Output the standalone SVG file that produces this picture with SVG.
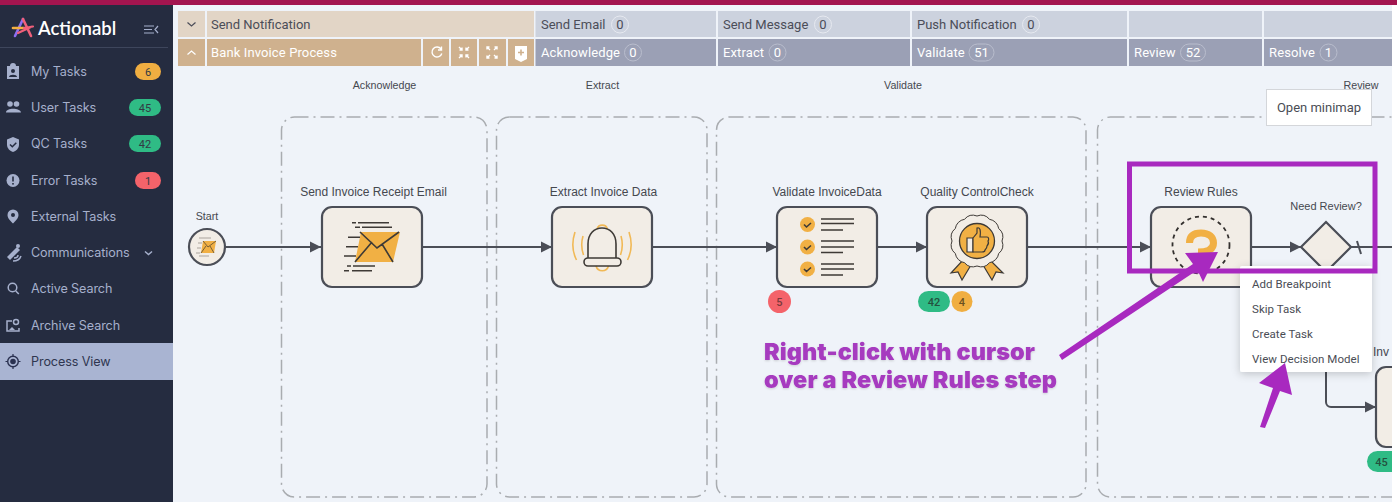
<svg xmlns="http://www.w3.org/2000/svg" width="1397" height="502" viewBox="0 0 1397 502">
<style>
text{font-family:"Roboto","Liberation Sans",sans-serif}
.side{font-size:12.6px;fill:#a6b0cc;font-family:"Inter","Roboto",sans-serif;letter-spacing:-.1px}
.ic{fill:#a6b0cc}
.icl{fill:none;stroke:#a6b0cc;stroke-width:1.5}
.bt{font-size:11px;fill:#333a44;text-anchor:middle}
.h1{font-size:13px;fill:#4b4d58}
.h2{font-size:13px;fill:#fff;letter-spacing:.12px}
.pl{fill:none;stroke:#e6e9f0;stroke-width:1}
.pd{fill:none;stroke:#b9bdcd;stroke-width:1}
.pt1{font-size:13px;fill:#4b4d58;text-anchor:middle}
.pt2{font-size:13px;fill:#fff;text-anchor:middle}
.a{fill:#ccd2de}.b{fill:#9ba0b5}.c{fill:#cfb18e}
.hi{fill:none;stroke:#fff;stroke-width:1.4}
.lane{fill:none;stroke:#a9acb0;stroke-width:1.5;stroke-dasharray:14 5 2 5}
.lab{font-family:"Liberation Sans",Arial,sans-serif;font-size:12px;fill:#45484f;text-anchor:middle}
.slab{font-family:"Liberation Sans",Arial,sans-serif;font-size:10.7px;fill:#45484f;text-anchor:middle}
.node{fill:#f2ede6;stroke:#4b4e57;stroke-width:2.2}
.ln{fill:none;stroke:#4b4e57;stroke-width:2}
.o{fill:#f1b044}
.d{fill:none;stroke:#3e3a36;stroke-width:1.6}
.w{fill:none;stroke:#f1b956;stroke-width:1.6}
.mi{font-size:11.5px;fill:#4a4d55;letter-spacing:.05px}
.pur{fill:#a829bf}
.pt{font-family:"Inter","Liberation Sans",sans-serif;font-weight:900;font-size:23.5px;fill:#a63abf;filter:url(#ts)}
.bd{font-size:11px;text-anchor:middle;fill:#4a4d45;font-weight:500}
</style>
<defs>
<marker id="ah" markerUnits="userSpaceOnUse" markerWidth="12" markerHeight="12" refX="11" refY="6" orient="auto"><path d="M0 .5L11 6L0 11.5Z" fill="#4b4e57"/></marker>
<filter id="sh" x="-10%" y="-10%" width="120%" height="125%"><feDropShadow dx="0" dy="2" stdDeviation="4" flood-color="#000" flood-opacity=".2"/></filter>
<filter id="ts" x="-5%" y="-20%" width="110%" height="140%"><feDropShadow dx="0" dy="1" stdDeviation="1" flood-color="#000" flood-opacity=".15"/></filter>
<clipPath id="cl"><rect x="173" y="0" width="1219" height="502"/></clipPath>
</defs>

<rect width="1397" height="502" fill="#fff"/>
<rect x="173" y="5" width="1219" height="497" fill="#eff3f9"/>
<rect width="1397" height="5" fill="#a3154f"/>

<g id="sidebar">
<rect x="0" y="5" width="173" height="497" fill="#252c40"/>
<rect x="0" y="343" width="173" height="37" fill="#a9b4d2"/>
<g id="logo">
<path d="M23 19L15 36" stroke="#8d6ff0" stroke-width="2.600" stroke-linecap="round"/>
<path d="M23 19L31 36" stroke="#f0607a" stroke-width="2.600" stroke-linecap="round"/>
<path d="M13 28H24" stroke="#f5b041" stroke-width="2.600" stroke-linecap="round"/>
<path d="M24 28L33 26.500M18 33L31 27" stroke="#f0607a" stroke-width="2.200" stroke-linecap="round"/>
<text x="38" y="35" font-size="18.5" font-weight="600" fill="#fff" style="font-family:'Lato','Inter',sans-serif">Actionabl</text>
<path d="M144 26h10M144 29.500h8M144 33h10M158 26l-3 3.500l3 3.500" fill="none" stroke="#a6b0cc" stroke-width="1.200"/>
</g>
<path d="M0 47.500H168" stroke="#3e465c" stroke-width="1"/>
<g id="my-tasks"><path d="M7 66h3a3 3 0 0 1 6 0h3v13H7Z" class="ic"/><circle cx="13" cy="71" r="2" fill="#252c40"/><path d="M9 77c0-3 8-3 8 0Z" fill="#252c40"/><text x="31" y="76" class="side">My Tasks</text><rect x="135" y="63" width="26" height="17" rx="8.500" fill="#f0ae41"/><text x="148" y="76" class="bt">6</text></g>
<g id="user-tasks"><circle cx="10" cy="104" r="2.800" class="ic"/><circle cx="16.500" cy="104" r="2.800" class="ic"/><path d="M6 112.500c0-5 14-5 15 0Z" class="ic"/><text x="31" y="112" class="side">User Tasks</text><rect x="129" y="99" width="32" height="17" rx="8.500" fill="#2fbb85"/><text x="145" y="112" class="bt">45</text></g>
<g id="qc-tasks"><path d="M13 137l6 2.500v5c0 4-3 6.500-6 7.500c-3-1-6-3.500-6-7.500v-5Z" class="ic"/><path d="M10 144.500l2.300 2.300l4-4" fill="none" stroke="#252c40" stroke-width="1.500"/><text x="31" y="148" class="side">QC Tasks</text><rect x="129" y="135" width="32" height="17" rx="8.500" fill="#2fbb85"/><text x="145" y="148" class="bt">42</text></g>
<g id="error-tasks"><circle cx="13" cy="180.500" r="6.500" class="ic"/><rect x="12.200" y="176.500" width="1.600" height="5" fill="#252c40"/><rect x="12.200" y="183" width="1.600" height="1.600" fill="#252c40"/><text x="31" y="185" class="side">Error Tasks</text><rect x="135" y="172" width="26" height="17" rx="8.500" fill="#f4636a"/><text x="148" y="185" class="bt">1</text></g>
<g id="external-tasks"><path d="M13 209.500a5.500 5.500 0 0 1 5.500 5.500c0 3.500-3.500 6.500-5.500 8.500c-2-2-5.500-5-5.500-8.500a5.500 5.500 0 0 1 5.500-5.500Z" class="ic"/><circle cx="13" cy="215" r="2" fill="#252c40"/><text x="31" y="221" class="side">External Tasks</text></g>
<g id="communications"><path d="M7 257l10-10l3 3l-10 10Z" class="ic"/><circle cx="18" cy="246" r="2" class="ic"/><path d="M14 258c2 0 4-1 4-3M13 261c4 0 7-2 8-5" class="icl" stroke-width="1"/><text x="31" y="257" class="side">Communications</text><path d="M145 251.500l3.500 3l3.500-3" class="icl"/></g>
<g id="active-search"><circle cx="12.500" cy="287.500" r="4.300" class="icl"/><path d="M15.800 291l3 3" class="icl"/><text x="31" y="293" class="side">Active Search</text></g>
<g id="archive-search"><path d="M12 321h-5v10h12v-3" class="icl"/><circle cx="16" cy="322" r="2.500" class="icl"/><path d="M9 330l3-3l3 3Z" class="ic"/><text x="31" y="330" class="side">Archive Search</text></g>
<g id="process-view"><circle cx="13" cy="361.500" r="5.300" fill="none" stroke="#2a3150" stroke-width="1.400"/><circle cx="13" cy="361.500" r="2.800" fill="#2a3150"/><path d="M13 354v2.500M13 366.500v2.500M5.500 361.500H8M18 361.500h2.500" stroke="#2a3150" stroke-width="1.200"/><text x="31" y="366" class="side" style="fill:#2f3650">Process View</text></g>
</g>

<g id="header">
<rect x="178" y="11" width="27" height="26" fill="#e2d5c6"/>
<path d="M187.500 22.500l4 3.500l4-3.500" fill="none" stroke="#4b4d58" stroke-width="1.200"/>
<rect x="207" y="11" width="327" height="26" fill="#e2d5c6"/>
<text x="211" y="29" class="h1">Send Notification</text>
<rect x="535.500" y="11" width="180.500" height="26" class="a"/>
<text x="541" y="29" class="h1">Send Email</text><circle cx="620" cy="24.500" r="8.500" class="pl"/><text x="620" y="29" class="pt1">0</text>
<rect x="718" y="11" width="192" height="26" class="a"/>
<text x="723" y="29" class="h1">Send Message</text><circle cx="823" cy="24.500" r="8.500" class="pl"/><text x="823" y="29" class="pt1">0</text>
<rect x="912" y="11" width="215" height="26" class="a"/>
<text x="917" y="29" class="h1">Push Notification</text><circle cx="1031" cy="24.500" r="8.500" class="pl"/><text x="1031" y="29" class="pt1">0</text>
<rect x="1129" y="11" width="133" height="26" class="a"/>
<rect x="1264" y="11" width="128" height="26" class="a"/>

<rect x="178" y="39" width="27" height="27" class="c"/>
<path d="M187.500 54.500l4-3.500l4 3.500" fill="none" stroke="#fff" stroke-width="1.200"/>
<rect x="207" y="39" width="214" height="27" class="c"/>
<text x="211" y="57" class="h2">Bank Invoice Process</text>
<rect x="423" y="39" width="26" height="27" class="c"/>
<path d="M441 49a5 5 0 1 0 .8 4.500M441.500 46.500v3.500h-3.500" class="hi"/>
<rect x="451" y="39" width="26" height="27" class="c"/>
<path d="M459 47l3 3M459.500 50h2.500v-2.500M469 47l-3 3M468.500 50H466v-2.500M459 58l3-3M459.500 55h2.500v2.500M469 58l-3-3M468.500 55H466v2.500" class="hi" stroke-width="1"/>
<rect x="479" y="39" width="27" height="27" class="c"/>
<path d="M487 47l3 3M487 49.500V47h2.500M497 47l-3 3M497 49.500V47h-2.500M487 58l3-3M487 55.500V58h2.500M497 58l-3-3M497 55.500V58h-2.500" class="hi" stroke-width="1"/>
<rect x="508" y="39" width="26" height="27" class="c"/>
<path d="M515 46h12v13l-6 3l-6-3Z" fill="#fff"/><path d="M521 49.500v6M518 52.500h6" stroke="#cfb18e" stroke-width="1.600"/>
<rect x="535.500" y="39" width="180.500" height="27" class="b"/>
<text x="541" y="57" class="h2">Acknowledge</text><circle cx="633" cy="52.500" r="8.500" class="pd"/><text x="633" y="57" class="pt2">0</text>
<rect x="718" y="39" width="192" height="27" class="b"/>
<text x="723" y="57" class="h2">Extract</text><circle cx="777.500" cy="52.500" r="8.500" class="pd"/><text x="777.500" y="57" class="pt2">0</text>
<rect x="912" y="39" width="215" height="27" class="b"/>
<text x="917" y="57" class="h2">Validate</text><rect x="969" y="44" width="25" height="17" rx="8.500" class="pd"/><text x="981.500" y="57" class="pt2">51</text>
<rect x="1129" y="39" width="133" height="27" class="b"/>
<text x="1134" y="57" class="h2">Review</text><rect x="1180.500" y="44" width="25" height="17" rx="8.500" class="pd"/><text x="1193" y="57" class="pt2">52</text>
<rect x="1264" y="39" width="128" height="27" class="b"/>
<text x="1269" y="57" class="h2">Resolve</text><circle cx="1328.500" cy="52.500" r="8.500" class="pd"/><text x="1328.500" y="57" class="pt2">1</text>
</g>

<g id="canvas" clip-path="url(#cl)">
<g id="lanes">
<rect x="281.500" y="117" width="205.500" height="380" rx="13" class="lane"/>
<rect x="496.500" y="117" width="210.500" height="380" rx="13" class="lane"/>
<rect x="716.500" y="117" width="369.500" height="380" rx="13" class="lane"/>
<rect x="1097.500" y="117" width="400" height="380" rx="13" class="lane"/>
<text x="384.500" y="89" class="slab">Acknowledge</text>
<text x="602.500" y="89" class="slab">Extract</text>
<text x="903" y="89" class="slab">Validate</text>
<text x="1361" y="89" class="slab">Review</text>
</g>

<g id="connectors">
<path d="M226 247H321" class="ln" marker-end="url(#ah)"/>
<path d="M423 247H552" class="ln" marker-end="url(#ah)"/>
<path d="M652 247H777" class="ln" marker-end="url(#ah)"/>
<path d="M877 247H927" class="ln" marker-end="url(#ah)"/>
<path d="M1027 247H1151" class="ln" marker-end="url(#ah)"/>
<path d="M1251 247H1301" class="ln" marker-end="url(#ah)"/>
<path d="M1351 247H1392" class="ln"/>
<path d="M1357 241L1361 254" class="ln" stroke-width="1.600"/>
<path d="M1326 272V402a5 5 0 0 0 5 5H1376" class="ln" marker-end="url(#ah)"/>
</g>

<g id="start">
<text x="207" y="220" class="slab">Start</text>
<circle cx="207" cy="247" r="18" class="node"/>
<path d="M203 241H216L214 253H201Z" class="o"/>
<path d="M203 241l5 6l8-6M201 253l5-7M214 253l-4-7" fill="none" stroke="#5a4a30" stroke-width=".8"/>
<path d="M199 238h12M198 243h4M197 248h4M196 253h4M199 256h10" stroke="#a9a49c" stroke-width="1.200"/>
</g>

<g id="send-invoice-receipt-email">
<text x="373.500" y="196" class="lab">Send Invoice Receipt Email</text>
<rect x="322" y="207" width="100" height="80" rx="10" class="node"/>
<path d="M361 232H400L393 262H355Z" class="o"/>
<path d="M360 232L377 248L399 232M355 262L372 242M393 262L382 244M352 222.700h4M358 222.700h31M355 227.300h5M362 227.300h30M348 237.300h12M346 246.700h12M344 256h12M347 266h4M353 266h22M344 270.700h5M352 270.700h20" class="d"/>
</g>

<g id="extract-invoice-data">
<text x="603.500" y="196" class="lab">Extract Invoice Data</text>
<rect x="552" y="207" width="100" height="80" rx="10" class="node"/>
<path d="M597 229a5.500 5.500 0 0 1 10.500 0M596 266a6.500 6.500 0 0 0 12.500 0M575 232c-3 9-3 19 1.500 28M583 236c-2 7-2 12 .5 19M629 232c3 9 3 19-1.500 28M621 236c2 7 2 12-.5 19" class="w"/>
<path d="M588 258V244c0-10 6-16 14-16s14 6 14 16V258" class="d"/>
<rect x="584" y="258" width="37" height="8" rx="4" class="d"/>
</g>

<g id="validate-invoicedata">
<text x="827" y="196" class="lab">Validate InvoiceData</text>
<rect x="777" y="207" width="100" height="80" rx="10" class="node"/>
<circle cx="807.500" cy="224.500" r="7.500" class="o"/><circle cx="807.500" cy="247" r="7.500" class="o"/><circle cx="807.500" cy="269" r="7.500" class="o"/>
<path d="M804 224.500l2.500 2.500l4.500-4M804 247l2.500 2.500l4.500-4M804 269l2.500 2.500l4.500-4M821 219h33M821 223.500h33M821 230h22M821 241h33M821 247h33M821 252.500h22M821 264h33M821 269h33M821 275h22" class="d"/>
<circle cx="779.500" cy="301.500" r="11.500" fill="#f4636a"/><text x="779.500" y="305.500" class="bd" style="fill:#7b3a3c">5</text>
</g>

<g id="quality-controlcheck">
<text x="977" y="196" class="lab">Quality ControlCheck</text>
<rect x="927" y="207" width="100" height="80" rx="10" class="node"/>
<path d="M963 260L971 265L962 280L958 272L951 273ZM990 260L983 265L992 280L996 272L1003 273Z" class="o" stroke="#3e3a36" stroke-width="1.200"/>
<path d="M1002 241A11 11 0 0 1 998.700 253.500A11 11 0 0 1 989.500 262.700A11 11 0 0 1 977 266A11 11 0 0 1 964.500 262.700A11 11 0 0 1 955.300 253.500A11 11 0 0 1 952 241A11 11 0 0 1 955.300 228.500A11 11 0 0 1 964.500 219.300A11 11 0 0 1 977 216A11 11 0 0 1 989.500 219.300A11 11 0 0 1 998.700 228.500A11 11 0 0 1 1002 241Z" fill="#f2ede6" stroke="#3e3a36" stroke-width="1"/>
<circle cx="977" cy="241" r="17.500" class="o" stroke="#3e3a36" stroke-width="1.300"/>
<path d="M967 238h6v14h-6Z" fill="#f2ede6" stroke="#3e3a36" stroke-width="1.200"/>
<path d="M973 238l4-5v-5c3-1 4 2 3 9h7c2 0 2 3 1 4c1 2 0 4-1 5c0 2-1 3-2 4c0 1-1 2-3 2h-9Z" class="o" stroke="#3e3a36" stroke-width="1.200"/>
<rect x="918" y="291" width="32" height="21" rx="10.500" fill="#2fbb85"/><text x="934" y="305.500" class="bd" style="fill:#24513f">42</text>
<circle cx="962" cy="301.500" r="10.500" fill="#f0ae41"/><text x="962" y="305.500" class="bd" style="fill:#6a5020">4</text>
</g>

<g id="review-rules">
<text x="1201" y="196" class="lab">Review Rules</text>
<rect x="1151" y="207" width="100" height="80" rx="10" class="node"/>
<circle cx="1201" cy="245" r="28.500" fill="none" stroke="#33302e" stroke-width="1.800" stroke-dasharray="4 4"/>
<path d="M1189.500 243C1189.500 235 1195 233 1201 233C1209 233 1213.500 237 1213.500 243C1213.500 250 1206 252 1198 252" fill="none" stroke="#f1b044" stroke-width="7"/>
</g>

<g id="need-review">
<text x="1326" y="210" class="slab" style="font-size:11px">Need Review?</text>
<path d="M1326 222L1351 247L1326 272L1301 247Z" class="node"/>
</g>

<g id="invoice-node">
<text x="1373" y="356" class="lab" style="text-anchor:start">Inv</text>
<rect x="1376" y="367" width="100" height="80" rx="10" class="node"/>
<rect x="1367" y="451" width="40" height="21" rx="10.500" fill="#2fbb85"/><text x="1381.500" y="465.500" class="bd" style="fill:#24513f">45</text>
</g>
</g>

<g id="open-minimap">
<rect x="1266.500" y="89.500" width="105" height="36" fill="#fff" stroke="#d4d6da" stroke-width="1"/>
<text x="1319" y="112" text-anchor="middle" font-size="13" fill="#4a4d55">Open minimap</text>
</g>

<g id="context-menu">
<rect x="1240" y="266" width="132" height="106" rx="2" fill="#fff" filter="url(#sh)"/>
<text x="1252" y="288" class="mi">Add Breakpoint</text>
<text x="1252" y="313" class="mi">Skip Task</text>
<text x="1252" y="338" class="mi">Create Task</text>
<text x="1252" y="363" class="mi">View Decision Model</text>
</g>

<g id="annotation">
<rect x="1129.500" y="164" width="245.500" height="107" fill="none" stroke="#a829bf" stroke-width="5"/>
<path d="M1185 253L1218 252L1203 282L1197.500 270L1062 360L1059 355L1193 264Z" class="pur"/>
<path d="M1285 363L1259 383L1273 388L1260 427L1265 428L1280 391L1292 395Z" class="pur"/>
<text x="764" y="360" class="pt" textLength="271" lengthAdjust="spacing">Right-click with cursor</text>
<text x="764" y="388" class="pt" textLength="293" lengthAdjust="spacing">over a Review Rules step</text>
</g>
</svg>
